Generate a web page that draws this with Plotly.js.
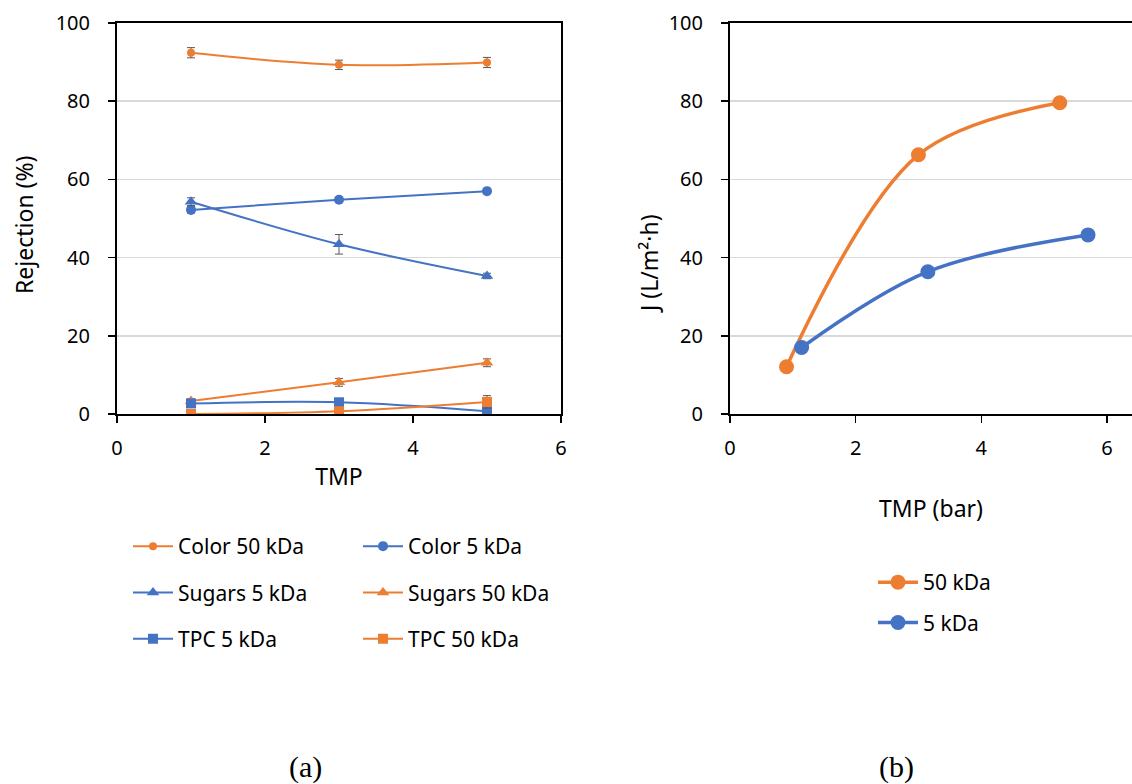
<!DOCTYPE html>
<html><head><meta charset="utf-8">
<script src="https://cdn.plot.ly/plotly-3.0.1.min.js"></script>
<style>html,body{margin:0;padding:0;background:#fff}#plot{width:1132px;height:784px}</style>
</head><body><div id="plot"></div>
<script>
// ---- data (a) ----
const tmpA = [1, 3, 5];
const color50 = [92.4, 89.3, 89.9];
const color50Err = [1.3, 1.2, 1.3];
const color5 = [52.2, 54.8, 57.0];
const color5Err = [0.8, 0.6, 0.6];
const sugars5 = [54.3, 43.4, 35.3];
const sugars5Err = [1.0, 2.5, 0.7];
const sugars50 = [3.3, 8.1, 13.1];
const sugars50Err = [0.6, 1.0, 1.0];
const tpc5 = [2.7, 3.0, 0.7];
const tpc5Err = [0.5, 0.5, 0.4];
const tpc50 = [0.0, 0.7, 3.1];
const tpc50Err = [0.3, 0.4, 1.6];
// ---- data (b) ----
const tmp50 = [0.90, 3.0, 5.25];
const flux50 = [12.1, 66.3, 79.6];
const tmp5 = [1.14, 3.15, 5.70];
const flux5 = [17.0, 36.4, 45.8];
const xTicks = [0, 2, 4, 6];
const yTicks = [0, 20, 40, 60, 80, 100];

const ORANGE = '#ED7D31', BLUE = '#4472C4';
const FONT = 'Noto Sans, Open Sans, sans-serif';

function serA(name, y, err, color, symbol, size, legend, group) {
  return {
    x: tmpA, y: y, name: name, type: 'scatter', mode: 'lines+markers',
    xaxis: 'x', yaxis: 'y', legend: legend, legendgroup: group,
    line: {color: color, width: 2, shape: 'spline', smoothing: 1},
    marker: {color: color, symbol: symbol, size: size},
    error_y: {type: 'data', array: err, visible: true, color: '#595959', thickness: 1, width: 4}
  };
}

const traces = [
  serA('Color 50 kDa', color50, color50Err, ORANGE, 'circle', 8, 'legend', 'g1'),
  serA('Color 5 kDa', color5, color5Err, BLUE, 'circle', 10, 'legend2', 'g2'),
  serA('Sugars 5 kDa', sugars5, sugars5Err, BLUE, 'triangle-up', 11, 'legend', 'g3'),
  serA('Sugars 50 kDa', sugars50, sugars50Err, ORANGE, 'triangle-up', 11, 'legend2', 'g4'),
  serA('TPC 5 kDa', tpc5, tpc5Err, BLUE, 'square', 10, 'legend', 'g5'),
  serA('TPC 50 kDa', tpc50, tpc50Err, ORANGE, 'square', 10, 'legend2', 'g6'),
  {x: tmp50, y: flux50, name: '50 kDa', type: 'scatter', mode: 'lines+markers',
   xaxis: 'x2', yaxis: 'y2', legend: 'legend3', legendgroup: 'h1',
   line: {color: ORANGE, width: 3.5, shape: 'spline', smoothing: 1},
   marker: {color: ORANGE, size: 15}},
  {x: tmp5, y: flux5, name: '5 kDa', type: 'scatter', mode: 'lines+markers',
   xaxis: 'x2', yaxis: 'y2', legend: 'legend3', legendgroup: 'h2',
   line: {color: BLUE, width: 3.5, shape: 'spline', smoothing: 1},
   marker: {color: BLUE, size: 15}}
];

const W = 1132, H = 784;
const px = v => v / W, py = v => (H - v) / H;
const tickFont = {family: FONT, size: 20, color: '#000'};
const titleFont = {family: FONT, size: 23, color: '#000'};
const legFont = {family: FONT, size: 21, color: '#000'};

function xax(domain, range, title, standoff) {
  return {domain: domain, range: range, tickvals: xTicks, showgrid: false, zeroline: false,
    showline: true, linecolor: '#000', linewidth: 2, mirror: true,
    ticks: 'outside', ticklen: 7, tickwidth: 1.5, tickcolor: '#000', ticklabelstandoff: 8,
    tickfont: tickFont, title: {text: title, font: titleFont, standoff: standoff}, automargin: false};
}
function yax(domain, anchor, mirror) {
  return {domain: domain, range: [0, 100], tickvals: yTicks, anchor: anchor,
    showgrid: true, gridcolor: '#d9d9d9', gridwidth: 1.5, zeroline: false,
    showline: true, linecolor: '#000', linewidth: 2, mirror: mirror,
    ticks: 'outside', ticklen: 7, tickwidth: 1.5, tickcolor: '#000', ticklabelstandoff: 14,
    tickfont: tickFont, automargin: false};
}

const yDom = [py(414), py(23)];
const legBase = {xanchor: 'left', yanchor: 'top', traceorder: 'grouped', font: legFont,
  bgcolor: 'rgba(0,0,0,0)', itemwidth: 40};
const serif = {family: 'Liberation Serif, Times New Roman, serif', size: 30, color: '#000'};
const layout = {
  width: W, height: H, margin: {l: 0, r: 0, t: 0, b: 0},
  paper_bgcolor: '#fff', plot_bgcolor: '#fff', font: {family: FONT, color: '#000'},
  xaxis: Object.assign(xax([px(117), px(561)], [0, 6], 'TMP', 9), {anchor: 'y'}),
  yaxis: yax(yDom, 'x', true),
  xaxis2: Object.assign(xax([px(730), 1], [0, 6.4], 'TMP (bar)', 41), {anchor: 'y2'}),
  yaxis2: yax(yDom, 'x2', false),
  legend: Object.assign({x: px(128), y: py(526), tracegroupgap: 16}, legBase),
  legend2: Object.assign({x: px(358), y: py(526), tracegroupgap: 16}, legBase),
  legend3: Object.assign({x: px(873), y: py(562), tracegroupgap: 10}, legBase),
  annotations: [
    {text: 'Rejection (%)', x: px(24), y: py(225), xref: 'paper', yref: 'paper', showarrow: false,
     xanchor: 'center', yanchor: 'middle', textangle: -90, font: titleFont},
    {text: 'J (L/m²·h)', x: px(649), y: py(264), xref: 'paper', yref: 'paper', showarrow: false,
     xanchor: 'center', yanchor: 'middle', textangle: -90, font: titleFont},
    {text: '(a)', x: px(305), y: py(767), xref: 'paper', yref: 'paper', showarrow: false,
     xanchor: 'center', yanchor: 'middle', font: serif},
    {text: '(b)', x: px(896), y: py(767), xref: 'paper', yref: 'paper', showarrow: false,
     xanchor: 'center', yanchor: 'middle', font: serif}
  ],
  showlegend: true
};

Plotly.newPlot('plot', traces, layout, {displayModeBar: false, staticPlot: true});
</script></body></html>
